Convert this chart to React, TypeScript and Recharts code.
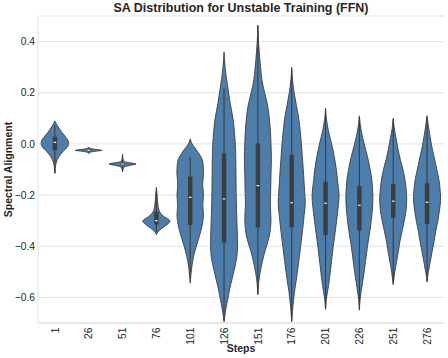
import { ComposedChart, Bar, XAxis, YAxis, CartesianGrid } from 'recharts'

const STEPS = ['1', '26', '51', '76', '101', '126', '151', '176', '201', '226', '251', '276']

// violin outlines: [value, relative half-width 0..1], top to bottom
const P_1: [number, number][] = [
  [0.09, 0], [0.07, 0.2], [0.05, 0.45], [0.03, 0.75], [0.01, 1.0], [-0.01, 0.95],
  [-0.03, 0.6], [-0.05, 0.3], [-0.07, 0.12], [-0.09, 0.04], [-0.115, 0],
]
const P_26: [number, number][] = [
  [-0.012, 0], [-0.018, 0.15], [-0.022, 0.6], [-0.025, 1.0], [-0.028, 0.6], [-0.032, 0.15], [-0.038, 0],
]
const P_51: [number, number][] = [
  [-0.04, 0], [-0.06, 0.04], [-0.07, 0.2], [-0.075, 0.7], [-0.079, 1.0], [-0.083, 0.6],
  [-0.09, 0.15], [-0.1, 0.03], [-0.11, 0],
]
const P_76: [number, number][] = [
  [-0.17, 0], [-0.19, 0.04], [-0.22, 0.08], [-0.25, 0.15], [-0.27, 0.3], [-0.285, 0.6],
  [-0.3, 1.0], [-0.315, 0.8], [-0.33, 0.4], [-0.345, 0.1], [-0.355, 0],
]
const P_101: [number, number][] = [
  [0.02, 0], [0.0, 0.14], [-0.03, 0.55], [-0.06, 0.88], [-0.09, 0.97], [-0.12, 0.98],
  [-0.16, 0.92], [-0.2, 0.98], [-0.24, 0.93], [-0.28, 0.98], [-0.32, 0.88], [-0.36, 0.68],
  [-0.4, 0.45], [-0.44, 0.25], [-0.48, 0.12], [-0.52, 0.04], [-0.545, 0],
]
const P_126: [number, number][] = [
  [0.36, 0], [0.32, 0.05], [0.28, 0.12], [0.22, 0.28], [0.16, 0.45], [0.1, 0.66],
  [0.04, 0.78], [-0.02, 0.85], [-0.1, 0.88], [-0.2, 0.9], [-0.3, 0.95], [-0.38, 1.0],
  [-0.44, 0.95], [-0.5, 0.72], [-0.56, 0.45], [-0.6, 0.3], [-0.65, 0.12], [-0.695, 0],
]
const P_151: [number, number][] = [
  [0.465, 0], [0.42, 0.03], [0.36, 0.1], [0.3, 0.2], [0.25, 0.3], [0.2, 0.5], [0.15, 0.72],
  [0.1, 0.85], [0.05, 0.93], [0.0, 0.97], [-0.06, 1.0], [-0.12, 0.97], [-0.18, 0.95],
  [-0.24, 0.92], [-0.3, 0.97], [-0.36, 0.85], [-0.42, 0.52], [-0.48, 0.25], [-0.53, 0.09], [-0.59, 0],
]
const P_176: [number, number][] = [
  [0.3, 0], [0.25, 0.06], [0.2, 0.18], [0.15, 0.35], [0.1, 0.52], [0.05, 0.63], [0.0, 0.72],
  [-0.06, 0.8], [-0.12, 0.88], [-0.18, 0.95], [-0.23, 1.0], [-0.28, 0.92], [-0.34, 0.8],
  [-0.4, 0.66], [-0.46, 0.52], [-0.52, 0.37], [-0.58, 0.2], [-0.64, 0.08], [-0.695, 0],
]
const P_201: [number, number][] = [
  [0.14, 0], [0.1, 0.06], [0.05, 0.22], [0.0, 0.45], [-0.05, 0.65], [-0.1, 0.8], [-0.15, 0.9],
  [-0.2, 1.0], [-0.25, 0.93], [-0.3, 0.82], [-0.35, 0.7], [-0.4, 0.57], [-0.45, 0.46],
  [-0.5, 0.35], [-0.55, 0.23], [-0.6, 0.08], [-0.647, 0],
]
const P_226: [number, number][] = [
  [0.11, 0], [0.07, 0.08], [0.03, 0.22], [-0.01, 0.4], [-0.05, 0.6], [-0.1, 0.8], [-0.15, 0.94],
  [-0.22, 1.0], [-0.28, 0.92], [-0.34, 0.78], [-0.4, 0.6], [-0.46, 0.45], [-0.52, 0.3],
  [-0.57, 0.15], [-0.61, 0.05], [-0.65, 0],
]
const P_251: [number, number][] = [
  [0.1, 0], [0.06, 0.08], [0.02, 0.22], [-0.02, 0.35], [-0.06, 0.52], [-0.1, 0.72], [-0.14, 0.87],
  [-0.18, 0.96], [-0.22, 1.0], [-0.26, 0.95], [-0.3, 0.82], [-0.34, 0.66], [-0.38, 0.5],
  [-0.42, 0.38], [-0.46, 0.25], [-0.5, 0.12], [-0.55, 0],
]
const P_276: [number, number][] = [
  [0.11, 0], [0.07, 0.1], [0.03, 0.22], [-0.01, 0.35], [-0.05, 0.52], [-0.1, 0.72], [-0.14, 0.88],
  [-0.18, 0.97], [-0.22, 1.0], [-0.26, 0.92], [-0.3, 0.8], [-0.34, 0.65], [-0.38, 0.52],
  [-0.42, 0.38], [-0.46, 0.24], [-0.5, 0.1], [-0.54, 0],
]

const PROFILES = [P_1, P_26, P_51, P_76, P_101, P_126, P_151, P_176, P_201, P_226, P_251, P_276]

// inner box: quartiles, median and whiskers
const Q1 = [-0.024, -0.028, -0.083, -0.315, -0.317, -0.386, -0.326, -0.326, -0.356, -0.339, -0.289, -0.313]
const MEDIAN = [0.006, -0.025, -0.079, -0.3, -0.209, -0.215, -0.163, -0.23, -0.232, -0.24, -0.224, -0.228]
const Q3 = [0.028, -0.022, -0.075, -0.265, -0.128, -0.037, 0.002, -0.043, -0.148, -0.165, -0.157, -0.154]
const WHISKER_LO = [-0.115, -0.034, -0.105, -0.345, -0.52, -0.69, -0.585, -0.69, -0.645, -0.645, -0.545, -0.535]
const WHISKER_HI = [0.075, -0.017, -0.045, -0.19, -0.052, 0.218, 0.46, 0.29, 0.135, 0.105, 0.095, 0.105]

const Y_TICKS = [-0.6, -0.4, -0.2, 0, 0.2, 0.4]

const FONT = '"Liberation Sans", Arial, sans-serif'
const TEXT = '#262626'
const GRID = '#e2e2e2'
const FILL = '#4c7dab'
const EDGE = '#3d3d3d'

const rows = STEPS.map((step, i) => {
  const vals = [...PROFILES[i].map((p) => p[0]), WHISKER_LO[i], WHISKER_HI[i]]
  return {
    step,
    range: [Math.min(...vals), Math.max(...vals)],
    profile: PROFILES[i],
    q1: Q1[i],
    med: MEDIAN[i],
    q3: Q3[i],
    wlo: WHISKER_LO[i],
    whi: WHISKER_HI[i],
  }
})

function curve(pts: [number, number][]): string {
  let d = ''
  for (let i = 0; i < pts.length - 1; i++) {
    const p0 = pts[Math.max(i - 1, 0)]
    const p1 = pts[i]
    const p2 = pts[i + 1]
    const p3 = pts[Math.min(i + 2, pts.length - 1)]
    const c1x = p1[0] + (p2[0] - p0[0]) / 6
    const c1y = p1[1] + (p2[1] - p0[1]) / 6
    const c2x = p2[0] - (p3[0] - p1[0]) / 6
    const c2y = p2[1] - (p3[1] - p1[1]) / 6
    d += ` C${c1x},${c1y} ${c2x},${c2y} ${p2[0]},${p2[1]}`
  }
  return d
}

function Violin(props: any) {
  const { x, y, width, height, payload } = props
  if (!payload) return null
  const [lo, hi] = payload.range
  const top = y
  const bottom = y + height
  const py = (v: number) => top + ((hi - v) / (hi - lo)) * (bottom - top)
  const cx = x + width / 2
  const hw = width / 2
  const prof: [number, number][] = payload.profile
  const right = prof.map(([v, w]) => [cx + w * hw, py(v)] as [number, number])
  const left = [...prof].reverse().map(([v, w]) => [cx - w * hw, py(v)] as [number, number])
  const d = `M${right[0][0]},${right[0][1]}` + curve(right) + ` L${left[0][0]},${left[0][1]}` + curve(left) + ' Z'
  const yq3 = py(payload.q3)
  const yq1 = py(payload.q1)
  return (
    <g>
      <path d={d} fill={FILL} stroke={EDGE} strokeWidth={0.9} strokeLinejoin="round" />
      <line x1={cx} x2={cx} y1={py(payload.whi)} y2={py(payload.wlo)} stroke={EDGE} strokeWidth={1.1} />
      <rect x={cx - 2.2} y={yq3} width={4.4} height={Math.max(yq1 - yq3, 1)} fill={EDGE} />
      <rect x={cx - 1.3} y={py(payload.med) - 0.6} width={2.6} height={1.2} fill="#f2f2f2" />
    </g>
  )
}

function StepTick({ x, y, payload }: any) {
  return (
    <text
      transform={`translate(${x + 3.6},${y + 2.5}) rotate(-90)`}
      textAnchor="end"
      fontSize={10.3}
      fontFamily={FONT}
      fill={TEXT}
    >
      {payload.value}
    </text>
  )
}

const fmt = (v: number) => (v < 0 ? '\u2212' + Math.abs(v).toFixed(1) : v.toFixed(1))

export default function App() {
  return (
    <div style={{ position: 'absolute', left: 0, top: 0, width: 448, height: 358 }}>
      <div
        style={{
          position: 'absolute',
          left: 38,
          top: 1,
          width: 406,
          textAlign: 'center',
          fontFamily: FONT,
          fontSize: 12.5,
          lineHeight: '15px',
          fontWeight: 'bold',
          color: TEXT,
          whiteSpace: 'nowrap',
        }}
      >
        SA Distribution for Unstable Training (FFN)
      </div>
      <ComposedChart
        width={448}
        height={358}
        data={rows}
        margin={{ top: 16, right: 4, bottom: 0, left: 0 }}
        barCategoryGap="10%"
      >
        <CartesianGrid vertical={false} stroke={GRID} />
        <XAxis
          dataKey="step"
          interval={0}
          height={35}
          tickSize={0}
          tickLine={false}
          axisLine={{ stroke: GRID }}
          tick={<StepTick />}
          label={(p: any) => (
            <text
              x={p.viewBox.x + p.viewBox.width / 2}
              y={352}
              textAnchor="middle"
              fontSize={10.5}
              fontWeight="bold"
              fontFamily={FONT}
              fill={TEXT}
            >
              Steps
            </text>
          )}
        />
        <XAxis
          xAxisId="top"
          dataKey="step"
          orientation="top"
          height={0}
          tick={false}
          tickLine={false}
          axisLine={{ stroke: GRID }}
        />
        <YAxis
          type="number"
          domain={[-0.7, 0.5]}
          allowDataOverflow
          ticks={Y_TICKS}
          tickFormatter={fmt}
          width={38}
          tickSize={0}
          tickMargin={3}
          tickLine={false}
          axisLine={{ stroke: GRID }}
          tick={{ fontSize: 10.3, fontFamily: FONT, fill: TEXT }}
          label={(p: any) => (
            <text
              transform={`translate(12,${p.viewBox.y + p.viewBox.height / 2}) rotate(-90)`}
              textAnchor="middle"
              fontSize={10.5}
              fontWeight="bold"
              fontFamily={FONT}
              fill={TEXT}
            >
              Spectral Alignment
            </text>
          )}
        />
        <YAxis
          yAxisId="right"
          orientation="right"
          domain={[0, 1]}
          width={0}
          tick={false}
          tickLine={false}
          axisLine={{ stroke: GRID }}
        />
        <Bar dataKey="range" shape={<Violin />} isAnimationActive={false} />
      </ComposedChart>
    </div>
  )
}
